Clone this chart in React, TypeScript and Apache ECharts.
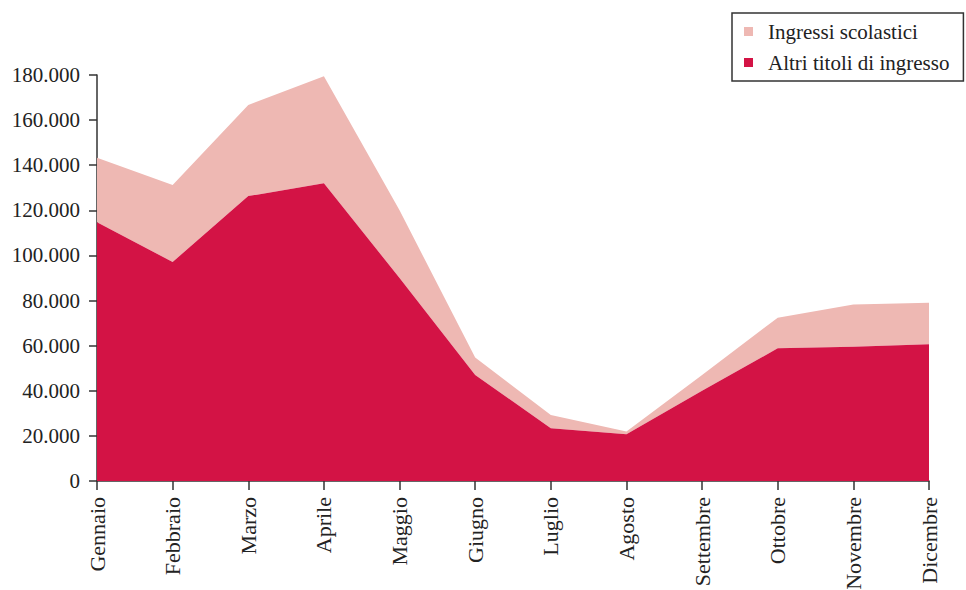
import React, { useEffect, useRef } from "react";
import * as echarts from "echarts";

const months = [
  "Gennaio", "Febbraio", "Marzo", "Aprile", "Maggio", "Giugno",
  "Luglio", "Agosto", "Settembre", "Ottobre", "Novembre", "Dicembre",
];
const altriTitoli = [114700, 97100, 126300, 132000, 90000, 47000, 23400, 20700, 40000, 58800, 59500, 60600];
const ingressiScolastici = [28600, 34100, 40400, 47500, 30000, 7700, 5900, 1200, 7000, 13600, 18800, 18400];

const FONT = "'Liberation Serif', 'DejaVu Serif', serif";
const fmt = (v: number) => String(v).replace(/\B(?=(\d{3})+(?!\d))/g, ".");

export default function App() {
  const ref = useRef<HTMLDivElement>(null);
  useEffect(() => {
    if (!ref.current) return;
    const chart = echarts.init(ref.current, null, { renderer: "svg" });
    chart.setOption({
      animation: false,
      textStyle: { fontFamily: FONT },
      legend: {
        orient: "vertical",
        left: 732,
        top: 13,
        padding: [8, 14, 8, 12],
        itemWidth: 9,
        itemHeight: 9,
        itemGap: 10,
        icon: "rect",
        borderColor: "#333",
        borderWidth: 1.5,
        data: ["Ingressi scolastici", "Altri titoli di ingresso"],
        textStyle: { fontFamily: FONT, fontSize: 21, color: "#222", padding: [0, 0, 0, 10] },
      },
      grid: { left: 97, right: 37, top: 75, bottom: 109, outerBoundsMode: "none", containLabel: false },
      xAxis: {
        type: "category",
        data: months,
        boundaryGap: false,
        axisLine: { lineStyle: { color: "#333", width: 1.5 } },
        axisTick: { alignWithLabel: true, length: 9, lineStyle: { color: "#333", width: 1.5 } },
        axisLabel: { rotate: 90, margin: 16, fontFamily: FONT, fontSize: 22, color: "#222" },
      },
      yAxis: {
        type: "value",
        min: 0,
        max: 180000,
        interval: 20000,
        splitLine: { show: false },
        axisLine: { show: true, lineStyle: { color: "#333", width: 1.5 } },
        axisTick: { show: true, length: 8, lineStyle: { color: "#333", width: 1.5 } },
        axisLabel: { margin: 17, fontFamily: FONT, fontSize: 21, color: "#222", formatter: (v: number) => fmt(v) },
      },
      series: [
        {
          name: "Altri titoli di ingresso",
          type: "line",
          stack: "tot",
          data: altriTitoli,
          symbol: "none",
          lineStyle: { width: 0 },
          itemStyle: { color: "#D31345" },
          areaStyle: { color: "#D31345", opacity: 1 },
          z: 2,
        },
        {
          name: "Ingressi scolastici",
          type: "line",
          stack: "tot",
          data: ingressiScolastici,
          symbol: "none",
          lineStyle: { width: 0 },
          itemStyle: { color: "#EEB8B3" },
          areaStyle: { color: "#EEB8B3", opacity: 1 },
          z: 1,
        },
      ],
    });
    return () => chart.dispose();
  }, []);
  return <div ref={ref} style={{ width: 966, height: 590, position: "absolute", left: 0, top: 0 }} />;
}
